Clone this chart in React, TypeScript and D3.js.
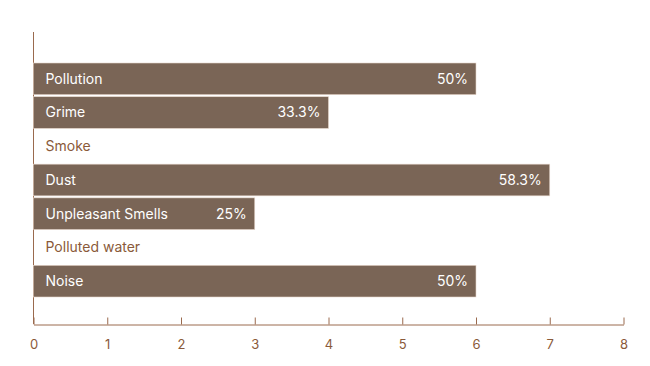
import * as d3 from 'd3';
import { useEffect, useRef } from 'react';

const categories = ['Pollution', 'Grime', 'Smoke', 'Dust', 'Unpleasant Smells', 'Polluted water', 'Noise'];
const counts = [6, 4, 0, 7, 3, 0, 6];
const percentLabels = ['50%', '33.3%', '', '58.3%', '25%', '', '50%'];
const xTicks = [0, 1, 2, 3, 4, 5, 6, 7, 8];

export default function App() {
  const ref = useRef<SVGSVGElement | null>(null);

  useEffect(() => {
    if (!ref.current) return;
    const svg = d3.select(ref.current);
    svg.selectAll('*').remove();

    const axisColor = '#9a6a4e';
    const barColor = '#7a6556';
    const textBrown = '#8a5a3a';
    const font = 'Inter, sans-serif';

    const x = d3.scaleLinear().domain([0, 8]).range([33.5, 623.5]);
    const y = d3
      .scaleBand<string>()
      .domain(categories)
      .range([63, 297])
      .paddingInner(0.06)
      .paddingOuter(0);

    // y axis line
    svg.append('line')
      .attr('x1', x(0)).attr('x2', x(0))
      .attr('y1', 32).attr('y2', 324)
      .attr('stroke', axisColor).attr('stroke-width', 1);

    // x axis
    const xAxis = svg.append('g')
      .attr('transform', `translate(0, 324.5)`)
      .call(d3.axisBottom(x).tickValues(xTicks).tickSize(-7).tickPadding(15).tickSizeOuter(0));
    xAxis.select('.domain').attr('stroke', axisColor);
    xAxis.selectAll('.tick line').attr('stroke', axisColor);
    xAxis.selectAll('.tick text')
      .attr('fill', textBrown)
      .style('font-family', font)
      .style('font-size', '13px');

    const rows = categories.map((c, i) => ({ c, v: counts[i], p: percentLabels[i] }));

    const g = svg.append('g');
    g.selectAll('rect')
      .data(rows)
      .enter()
      .append('rect')
      .attr('x', x(0))
      .attr('y', (d) => y(d.c)!)
      .attr('width', (d) => x(d.v) - x(0))
      .attr('height', y.bandwidth())
      .attr('fill', barColor)
      .attr('stroke', '#e8d8cc')
      .attr('stroke-width', (d) => (d.v > 0 ? 0.6 : 0));

    g.selectAll('text.cat')
      .data(rows)
      .enter()
      .append('text')
      .attr('class', 'cat')
      .attr('x', x(0) + 12)
      .attr('y', (d) => y(d.c)! + y.bandwidth() / 2)
      .attr('dy', '0.35em')
      .attr('fill', (d) => (d.v > 0 ? '#ffffff' : textBrown))
      .style('font-family', font)
      .style('font-size', '14px')
      .text((d) => d.c);

    g.selectAll('text.val')
      .data(rows.filter((d) => d.v > 0))
      .enter()
      .append('text')
      .attr('class', 'val')
      .attr('x', (d) => x(d.v) - 8)
      .attr('y', (d) => y(d.c)! + y.bandwidth() / 2)
      .attr('dy', '0.35em')
      .attr('text-anchor', 'end')
      .attr('fill', '#ffffff')
      .style('font-family', font)
      .style('font-size', '14px')
      .text((d) => d.p);
  }, []);

  return (
    <svg
      ref={ref}
      width={650}
      height={366}
      style={{ position: 'absolute', left: 0, top: 0, background: '#fff' }}
    />
  );
}
